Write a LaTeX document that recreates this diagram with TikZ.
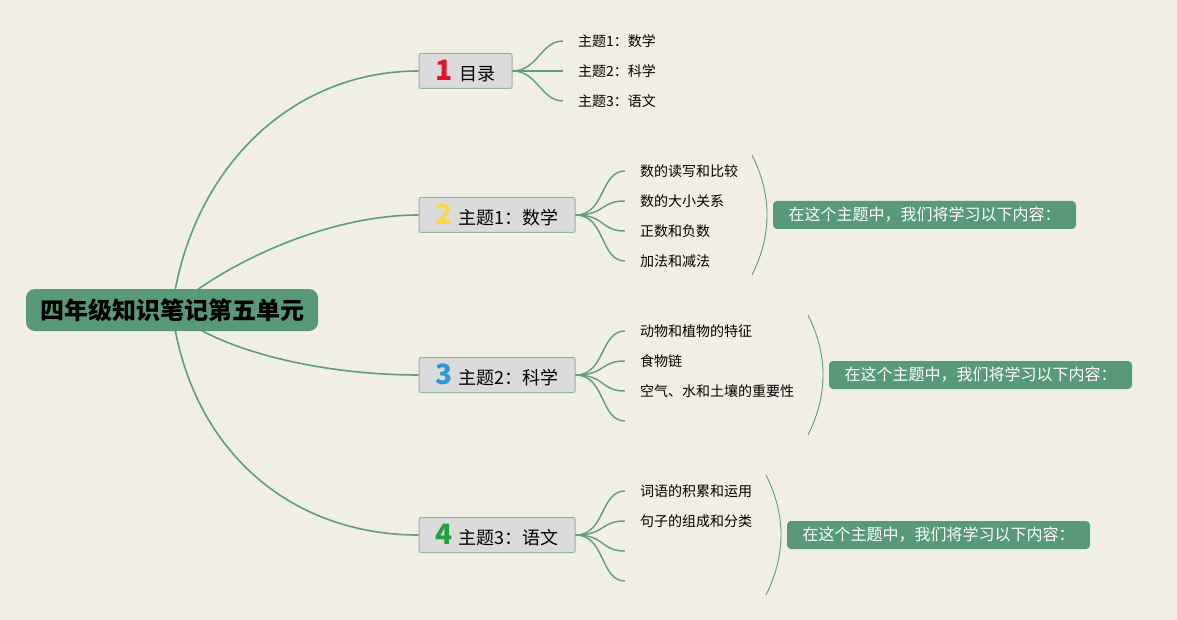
\documentclass[tikz,border=0pt]{standalone}
\usepackage{fontspec}
\setmainfont{Noto Sans CJK SC}
\usetikzlibrary{arrows}

\definecolor{paper}{HTML}{F1EEE4}
\definecolor{rootgreen}{HTML}{58997A}
\definecolor{linegreen}{HTML}{5E9C88}
\definecolor{topicgray}{HTML}{DADBDA}
\definecolor{topicline}{HTML}{93B3A8}
\definecolor{numred}{HTML}{E0142D}
\definecolor{numyellow}{HTML}{F6D84A}
\definecolor{numblue}{HTML}{2C9AD8}
\definecolor{numgreen}{HTML}{23A03A}

\newcommand{\topicnum}[2]{{\color{#1}\fontsize{28}{28}\selectfont\bfseries #2}\hspace{6pt}}

\tikzset{
	rootbox/.style={fill=rootgreen, rounded corners=9pt, minimum width=292pt, minimum height=42pt, inner sep=0pt, font=\fontsize{24}{24}\selectfont\bfseries},
	topicbox/.style={fill=topicgray, draw=topicline, line width=1pt, rounded corners=2pt, minimum height=35pt, inner sep=0pt, font=\fontsize{18}{18}\selectfont},
	leaf/.style={anchor=west, inner sep=0pt, font=\fontsize{14}{14}\selectfont},
	callout/.style={fill=rootgreen, text=white, rounded corners=4pt, minimum width=303pt, minimum height=28pt, inner sep=0pt, font=\fontsize{16}{16}\selectfont},
	branch/.style={draw=linegreen, line width=1.6pt},
	twig/.style={draw=linegreen, line width=1.4pt},
	bracket/.style={draw=linegreen, line width=0.9pt},
}

\begin{document}
\begin{tikzpicture}[x=1pt, y=-1pt]
	\fill[paper] (0,0) rectangle (1177,620);
	\useasboundingbox (0,0) rectangle (1177,620);
	\def\tw{30};
	
	% topics
	\node[topicbox, minimum width=93pt] (t1) at (465.5,71) {\topicnum{numred}{1}目录};
	\node[topicbox, minimum width=156pt] (t2) at (497,215) {\topicnum{numyellow}{2}主题1：数学};
	\node[topicbox, minimum width=156pt] (t3) at (497,375) {\topicnum{numblue}{3}主题2：科学};
	\node[topicbox, minimum width=156pt] (t4) at (497,535) {\topicnum{numgreen}{4}主题3：语文};
	
	% root branches
	\coordinate (rc) at (172,310);
	\draw[branch] (rc) .. controls (190,170) and (290,71) .. (t1.west);
	\draw[branch] (rc) .. controls (215,270) and (320,215) .. (t2.west);
	\draw[branch] (rc) .. controls (215,350) and (320,375) .. (t3.west);
	\draw[branch] (rc) .. controls (190,450) and (290,535) .. (t4.west);
	\node[rootbox] (root) at (rc) {四年级知识笔记第五单元};
	
	% topic 1
	\coordinate (e11) at (563,41);
	\coordinate (e12) at (563,71);
	\coordinate (e13) at (563,101);
	\foreach \e in {e11,e12,e13}
		\draw[twig] (t1.east) .. controls +(25,0) and +(-22,0) .. (\e);
	\node[leaf] (l11) at (578,41) {主题1：数学};
	\node[leaf] (l12) at (578,71) {主题2：科学};
	\node[leaf] (l13) at (578,101) {主题3：语文};
	
	% topic 2
	\coordinate (e21) at (625,171);
	\coordinate (e22) at (625,201);
	\coordinate (e23) at (625,231);
	\coordinate (e24) at (625,261);
	\foreach \e in {e21,e22,e23,e24}
		\draw[twig] (t2.east) .. controls +(\tw,0) and +(-25,0) .. (\e);
	\node[leaf] (l21) at (640,171) {数的读写和比较};
	\node[leaf] (l22) at (640,201) {数的大小关系};
	\node[leaf] (l23) at (640,231) {正数和负数};
	\node[leaf] (l24) at (640,261) {加法和减法};
	\draw[bracket] (752,155) .. controls (772,195) and (772,235) .. (752,275);
	\node[callout] (c2) at (924.5,215) {在这个主题中，我们将学习以下内容：};
	
	% topic 3
	\coordinate (e31) at (625,331);
	\coordinate (e32) at (625,361);
	\coordinate (e33) at (625,391);
	\coordinate (e34) at (625,421);
	\foreach \e in {e31,e32,e33,e34}
		\draw[twig] (t3.east) .. controls +(\tw,0) and +(-25,0) .. (\e);
	\node[leaf] (l31) at (640,331) {动物和植物的特征};
	\node[leaf] (l32) at (640,361) {食物链};
	\node[leaf] (l33) at (640,391) {空气、水和土壤的重要性};
	\draw[bracket] (808,315) .. controls (828,355) and (828,395) .. (808,435);
	\node[callout] (c3) at (980.5,375) {在这个主题中，我们将学习以下内容：};
	
	% topic 4
	\coordinate (e41) at (625,491);
	\coordinate (e42) at (625,521);
	\coordinate (e43) at (625,551);
	\coordinate (e44) at (625,581);
	\foreach \e in {e41,e42,e43,e44}
		\draw[twig] (t4.east) .. controls +(\tw,0) and +(-25,0) .. (\e);
	\node[leaf] (l41) at (640,491) {词语的积累和运用};
	\node[leaf] (l42) at (640,521) {句子的组成和分类};
	\draw[bracket] (766,475) .. controls (786,515) and (786,555) .. (766,595);
	\node[callout] (c4) at (938.5,535) {在这个主题中，我们将学习以下内容：};
\end{tikzpicture}
\end{document}
